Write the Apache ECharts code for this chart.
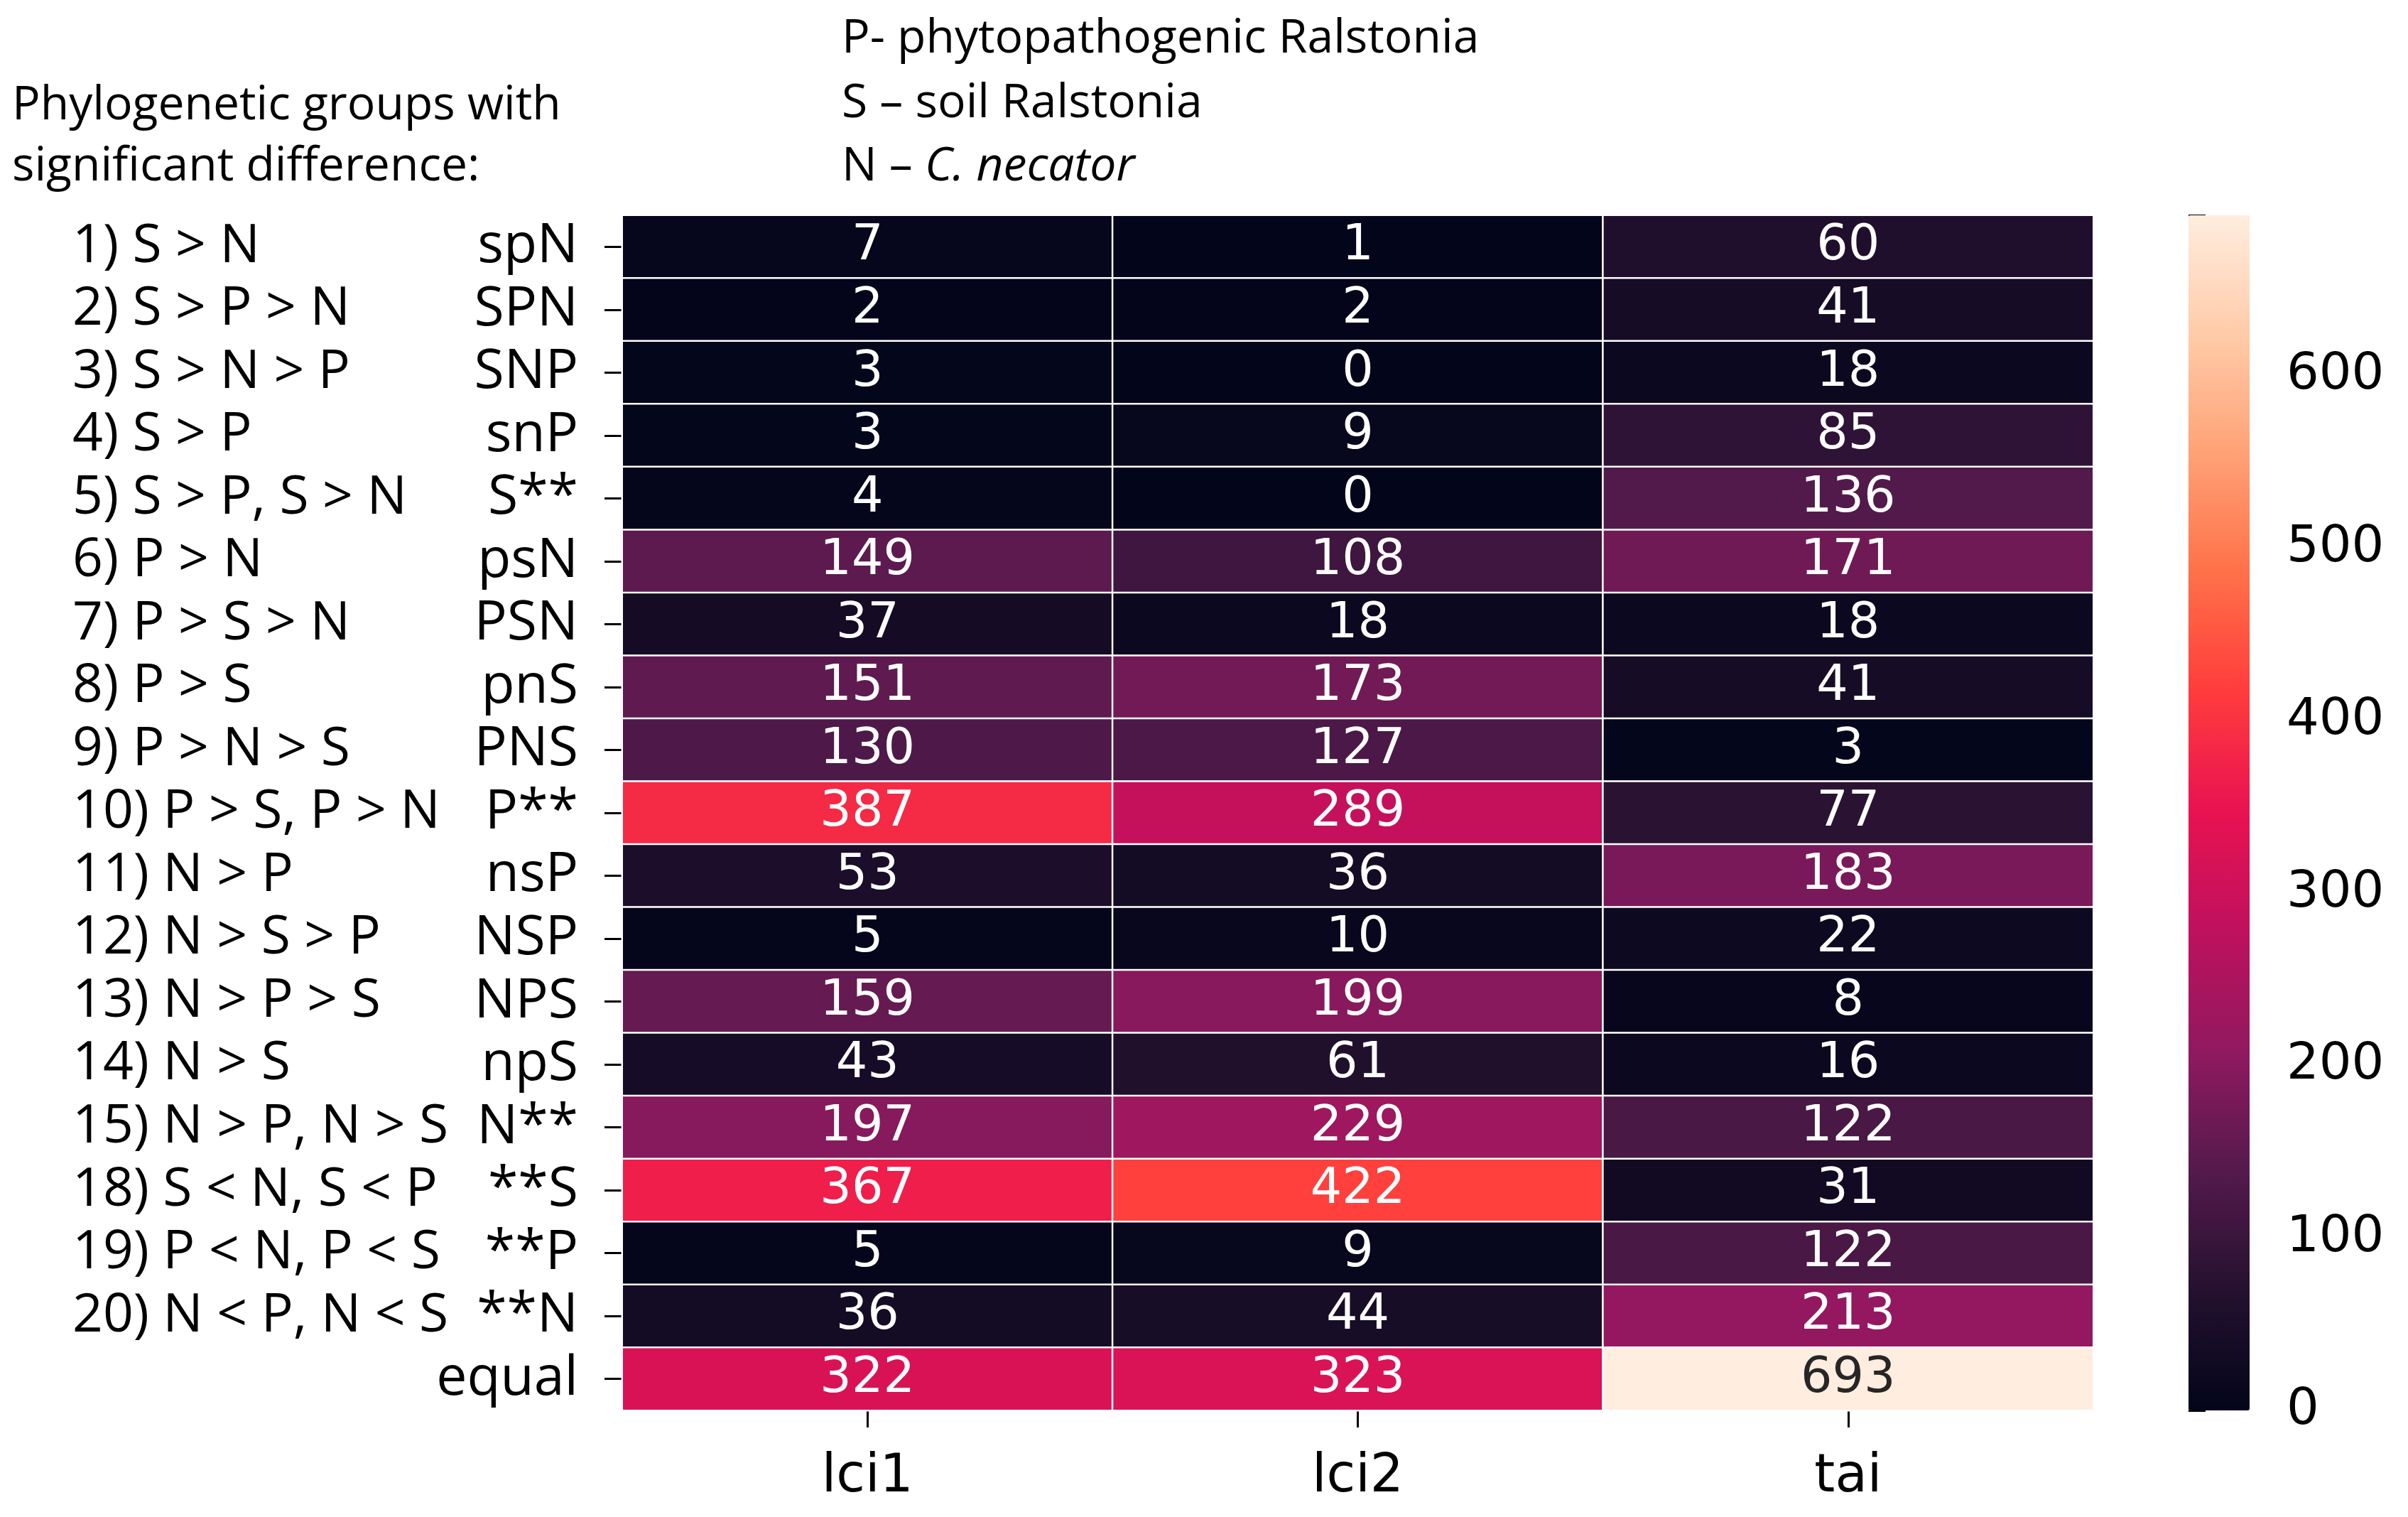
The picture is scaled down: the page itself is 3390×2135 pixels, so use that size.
<!DOCTYPE html>
<html>
<head>
<meta charset="utf-8">
<script src="https://cdn.jsdelivr.net/npm/echarts@6/dist/echarts.min.js"></script>
<style>
html,body{margin:0;padding:0;background:#fff;}
#chart{width:3390px;height:2135px;}
</style>
</head>
<body>
<div id="chart"></div>
<script>
const columns = ['lci1', 'lci2', 'tai'];
const rows = ['spN','SPN','SNP','snP','S**','psN','PSN','pnS','PNS','P**','nsP','NSP','NPS','npS','N**','**S','**P','**N','equal'];
const groupDesc = ['1) S > N','2) S > P > N','3) S > N > P','4) S > P','5) S > P, S > N','6) P > N','7) P > S > N','8) P > S','9) P > N > S','10) P > S, P > N','11) N > P','12) N > S > P','13) N > P > S','14) N > S','15) N > P, N > S','18) S < N, S < P','19) P < N, P < S','20) N < P, N < S',''];
const lci1 = [7,2,3,3,4,149,37,151,130,387,53,5,159,43,197,367,5,36,322];
const lci2 = [1,2,0,9,0,108,18,173,127,289,36,10,199,61,229,422,9,44,323];
const tai  = [60,41,18,85,136,171,18,41,3,77,183,22,8,16,122,31,122,213,693];
const colorbarTicks = [0,100,200,300,400,500,600];
const legendLines = ['P- phytopathogenic Ralstonia', 'S \u2013 soil Ralstonia'];

const seriesCols = [lci1, lci2, tai];
const vmax = Math.max(...lci1, ...lci2, ...tai);
const data = [];
seriesCols.forEach((col, xi) => {
  col.forEach((v, yi) => {
    const item = {value: [xi, yi, v]};
    if (v / vmax > 0.8) item.label = {color: '#262626'};
    data.push(item);
  });
});

const chart = echarts.init(document.getElementById('chart'));
const sansNum = 'DejaVu Sans';
const sansTxt = 'Open Sans';
chart.setOption({
  backgroundColor: '#fff',
  animation: false,
  grid: [
    {left: 876, top: 303, width: 2071, height: 1682},
    {left: 3081, top: 303, width: 86, height: 1682}
  ],
  xAxis: [
    {type: 'category', gridIndex: 0, data: columns, position: 'bottom',
     axisLine: {show: false},
     axisTick: {show: true, alignWithLabel: true, interval: 0, length: 24, lineStyle: {color: '#000', width: 3}},
     axisLabel: {fontFamily: sansNum, fontSize: 74, color: '#000', margin: 58, interval: 0},
     splitArea: {show: false}, splitLine: {show: false}},
    {type: 'value', gridIndex: 1, show: false, min: 0, max: 1}
  ],
  yAxis: [
    {type: 'category', gridIndex: 0, data: rows, inverse: true, position: 'left',
     axisLine: {show: false},
     axisTick: {show: true, alignWithLabel: true, interval: 0, length: 25, lineStyle: {color: '#000', width: 3}},
     axisLabel: {fontFamily: sansTxt, fontSize: 77, color: '#000', margin: 62, interval: 0},
     splitArea: {show: false}, splitLine: {show: false}},
    {type: 'category', gridIndex: 0, data: groupDesc, inverse: true, position: 'left',
     axisLine: {show: false}, axisTick: {show: false},
     axisLabel: {fontFamily: sansTxt, fontSize: 75, color: '#000', margin: 774, align: 'left', interval: 0},
     splitArea: {show: false}, splitLine: {show: false}},
    {type: 'value', gridIndex: 1, min: 0, max: vmax, interval: 100, position: 'right',
     axisLine: {show: false},
     axisTick: {show: true, length: 24, lineStyle: {color: '#000', width: 3}},
     axisLabel: {fontFamily: sansNum, fontSize: 72, color: '#000', margin: 52, padding: [20, 0, 0, 0],
       formatter: v => colorbarTicks.indexOf(v) >= 0 ? String(v) : ''},
     splitLine: {show: false}}
  ],
  visualMap: {
    type: 'continuous', min: 0, max: vmax, seriesIndex: 0,
    left: 3081, top: 303, itemWidth: 86, itemHeight: 1682,
    calculable: false, padding: 0, text: null, showLabel: false,
    hoverLink: false,
    inRange: {color: ['#03051A','#24112F','#541A4C','#901960','#BE115D','#E81252','#FF3B3C','#FF7048','#FFA175','#FFCBA8','#FFEDDF']}
  },
  series: [{
    type: 'heatmap', xAxisIndex: 0, yAxisIndex: 0, data: data,
    label: {show: true, fontFamily: sansNum, fontSize: 70, color: '#fff',
      formatter: p => String(p.value[2])},
    itemStyle: {borderColor: '#fff', borderWidth: 2.5},
    emphasis: {disabled: true}
  }],
  graphic: [
    {type: 'text', left: 17, top: 116, style: {text: 'Phylogenetic groups with', font: '66px "Open Sans"', fill: '#000'}},
    {type: 'text', left: 17, top: 202, style: {text: 'significant difference:', font: '66px "Open Sans"', fill: '#000'}},
    {type: 'text', left: 1185, top: 22, style: {text: legendLines[0], font: '66px "Open Sans"', fill: '#000'}},
    {type: 'text', left: 1185, top: 113, style: {text: legendLines[1], font: '66px "Open Sans"', fill: '#000'}},
    {type: 'text', left: 1185, top: 202, style: {text: '{n|N \u2013 }{i|C. necator}', font: '66px "Open Sans"', fill: '#000',
      rich: {n: {fontFamily: 'Open Sans', fontSize: 66, fill: '#000'}, i: {fontFamily: 'Open Sans', fontSize: 66, fontStyle: 'italic', fill: '#000'}}}}
  ]
});
</script>
</body>
</html>
